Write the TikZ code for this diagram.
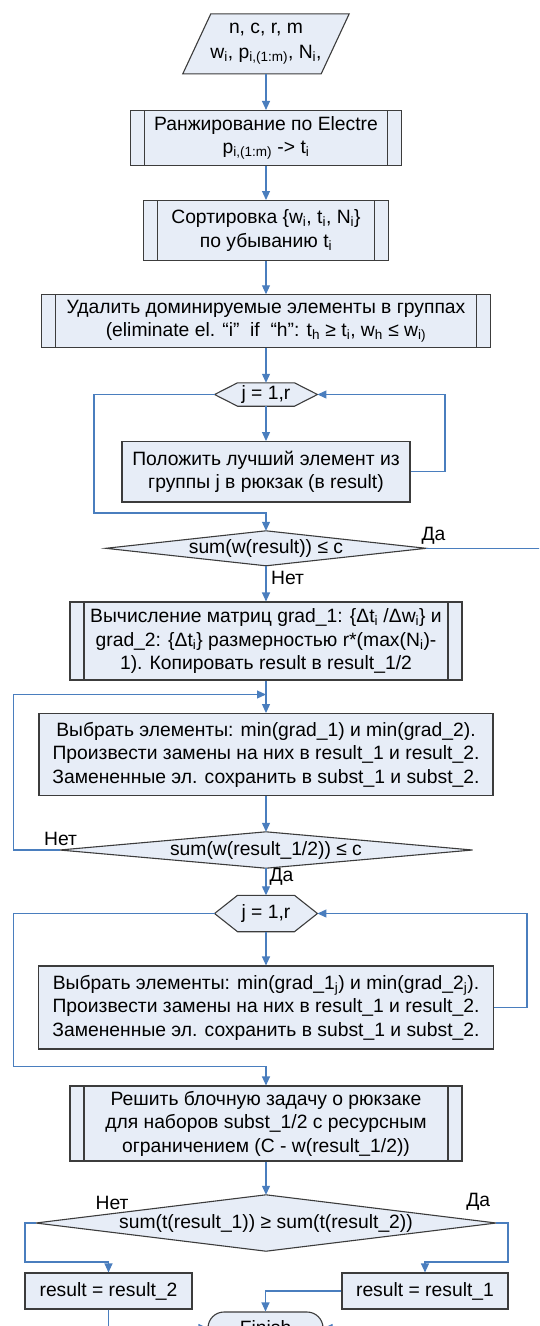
\documentclass[tikz,border=0pt]{standalone}
\usepackage{fontspec}
\setmainfont{Liberation Sans}
\usetikzlibrary{arrows.meta,backgrounds,calc}
\definecolor{boxfill}{RGB}{231,237,247}
\definecolor{bord}{RGB}{60,60,60}
\definecolor{linkblue}{RGB}{74,126,190}
\newcommand\sbs[1]{\textsubscript{#1}}
\newcommand\diafont{\fontsize{19.3pt}{23.5pt}\selectfont}
\tikzset{
  txt/.style={font=\diafont, align=center, inner sep=0pt, text=black},
  box/.style={txt, draw=bord, fill=boxfill, line width=1.1pt, rectangle},
  predef/.style={box, path picture={
      \draw[bord, line width=1.1pt]
        ([xshift=14pt]path picture bounding box.north west) -- ([xshift=14pt]path picture bounding box.south west)
        ([xshift=-14pt]path picture bounding box.north east) -- ([xshift=-14pt]path picture bounding box.south east);}},
  ghost/.style={txt, draw=none},
  outline/.style={draw=bord, fill=boxfill, line width=1.1pt},
  conn/.style={draw=linkblue, line width=1.1pt, -{Triangle[length=9pt,width=8pt]}},
  lbl/.style={font=\diafont, inner sep=0pt}
}
\begin{document}
\begin{tikzpicture}[x=1pt,y=-1pt]
\useasboundingbox (0,0) rectangle (539,1326);
\clip (0,0) rectangle (539,1326);

\node[ghost, minimum width=166pt, minimum height=59.6pt] (inp) at (266,43.8)
  {n, c, r, m\\[2pt] w\sbs{i}, p\sbs{i,(1:m)}, N\sbs{i},};
\node[predef, minimum width=270.5pt, minimum height=55pt] (rank) at (266,138)
  {Ранжирование по Electre\\ p\sbs{i,(1:m)} -> t\sbs{i}};
\node[predef, minimum width=245pt, minimum height=59.5pt] (sort) at (266,230.3)
  {Сортировка \{w\sbs{i}, t\sbs{i}, N\sbs{i}\}\\ по убыванию t\sbs{i}};
\node[predef, minimum width=448.6pt, minimum height=53pt] (elim) at (266,321.3)
  {Удалить доминируемые элементы в группах\\ (eliminate el. “i”\ \ if\ \ “h”: t\sbs{h} ≥ t\sbs{i}, w\sbs{h} ≤ w\sbs{i)}};
\node[ghost, minimum width=102.5pt, minimum height=23pt] (hexa) at (266,394.5) {j = 1,r};
\node[box, minimum width=288pt, minimum height=60.4pt] (put) at (266,471.8)
  {Положить лучший элемент из\\ группы j в рюкзак (в result)};
\node[ghost, minimum width=320pt, minimum height=34.6pt] (dia1) at (266,548.3) {sum(w(result)) ≤ c};
\node[predef, minimum width=392pt, minimum height=78pt] (grad) at (266,641)
  {Вычисление матриц grad\_1: \{Δt\sbs{i} /Δw\sbs{i}\} и\\ grad\_2: \{Δt\sbs{i}\} размерностью r*(max(N\sbs{i})-\\ 1). Копировать result в result\_1/2};
\node[box, minimum width=454pt, minimum height=82pt] (pick) at (266,754.6)
  {Выбрать элементы: min(grad\_1) и min(grad\_2).\\ Произвести замены на них в result\_1 и result\_2.\\ Замененные эл. сохранить в subst\_1 и subst\_2.};
\node[ghost, minimum width=412.5pt, minimum height=36pt] (dia2) at (266,850) {sum(w(result\_1/2)) ≤ c};
\node[ghost, minimum width=102.5pt, minimum height=36pt] (hexb) at (266,913.5) {j = 1,r};
\node[box, minimum width=455pt, minimum height=83pt] (pickj) at (266,1007.5)
  {Выбрать элементы: min(grad\_1\sbs{j}) и min(grad\_2\sbs{j}).\\ Произвести замены на них в result\_1 и result\_2.\\ Замененные эл. сохранить в subst\_1 и subst\_2.};
\node[predef, minimum width=392pt, minimum height=75pt] (solve) at (266,1123.5)
  {Решить блочную задачу о рюкзаке\\ для наборов subst\_1/2 с ресурсным\\ ограничением (C - w(result\_1/2))};
\node[ghost, minimum width=460pt, minimum height=56pt] (dia3) at (266,1223) {sum(t(result\_1)) ≥ sum(t(result\_2))};
\node[box, minimum width=167pt, minimum height=36pt] (res2) at (108.5,1291) {result = result\_2};
\node[box, minimum width=166pt, minimum height=36pt] (res1) at (425,1291) {result = result\_1};
\node[box, rounded corners=16pt, minimum width=115pt, minimum height=32pt] (fin) at (265.5,1328) {Finish};

\begin{scope}[on background layer]
  \draw[outline] (inp.south west) -- ($(inp.north west)+(28,0)$) -- (inp.north east) -- ($(inp.south east)+(-28,0)$) -- cycle;
  \draw[outline] (hexa.west) -- ($(hexa.north west)+(23,0)$) -- ($(hexa.north east)+(-23,0)$) -- (hexa.east)
     -- ($(hexa.south east)+(-23,0)$) -- ($(hexa.south west)+(23,0)$) -- cycle;
  \draw[outline] (hexb.west) -- ($(hexb.north west)+(23,0)$) -- ($(hexb.north east)+(-23,0)$) -- (hexb.east)
     -- ($(hexb.south east)+(-23,0)$) -- ($(hexb.south west)+(23,0)$) -- cycle;
  \draw[outline] (dia1.west) -- (dia1.north) -- (dia1.east) -- (dia1.south) -- cycle;
  \draw[outline] (dia2.west) -- (dia2.north) -- (dia2.east) -- (dia2.south) -- cycle;
  \draw[outline] (dia3.west) -- (dia3.north) -- (dia3.east) -- (dia3.south) -- cycle;
\end{scope}

\coordinate (m2) at (266,694.5);

\draw[conn] (inp.south) -- (rank.north);
\draw[conn] (rank.south) -- (sort.north);
\draw[conn] (sort.south) -- (elim.north);
\draw[conn] (elim.south) -- (hexa.north);
\draw[conn] (hexa.south) -- (put.north);
\draw[conn] (put.east) -- (445,471.8) |- (hexa.east);
\draw[conn] (hexa.west) -| (94,513) -| (dia1.north);
\draw[conn] (dia1.east) -- (545,548.3) |- (fin.east);
\draw[conn] (dia1.south) -- (grad.north);
\draw[conn] (grad.south) -- (pick.north);
\draw[conn] (dia2.west) -| (13.8,694.5) -- (m2);
\draw[conn] (pick.south) -- (dia2.north);
\draw[conn] (dia2.south) -- (hexb.north);
\draw[conn] (hexb.south) -- (pickj.north);
\draw[conn] (pickj.east) -- (527,1007.5) |- (hexb.east);
\draw[conn] (hexb.west) -| (13.8,1066.6) -| (solve.north);
\draw[conn] (solve.south) -- (dia3.north);
\draw[conn] (dia3.west) -| (25,1262) -| (res2.north);
\draw[conn] (dia3.east) -| (508,1262) -| (res1.north);
\draw[conn] (res1.west) -| (fin.north);
\draw[conn] (res2.south) |- (fin.west);

\node[lbl] (da1) at (433.5,536) {Да};
\node[lbl] (net1) at (287.5,577.7) {Нет};
\node[lbl] (net2) at (60.5,839) {Нет};
\node[lbl] (da2) at (281.5,877) {Да};
\node[lbl] (net3) at (112,1202.6) {Нет};
\node[lbl] (da3) at (478.3,1202) {Да};
\end{tikzpicture}
\end{document}
